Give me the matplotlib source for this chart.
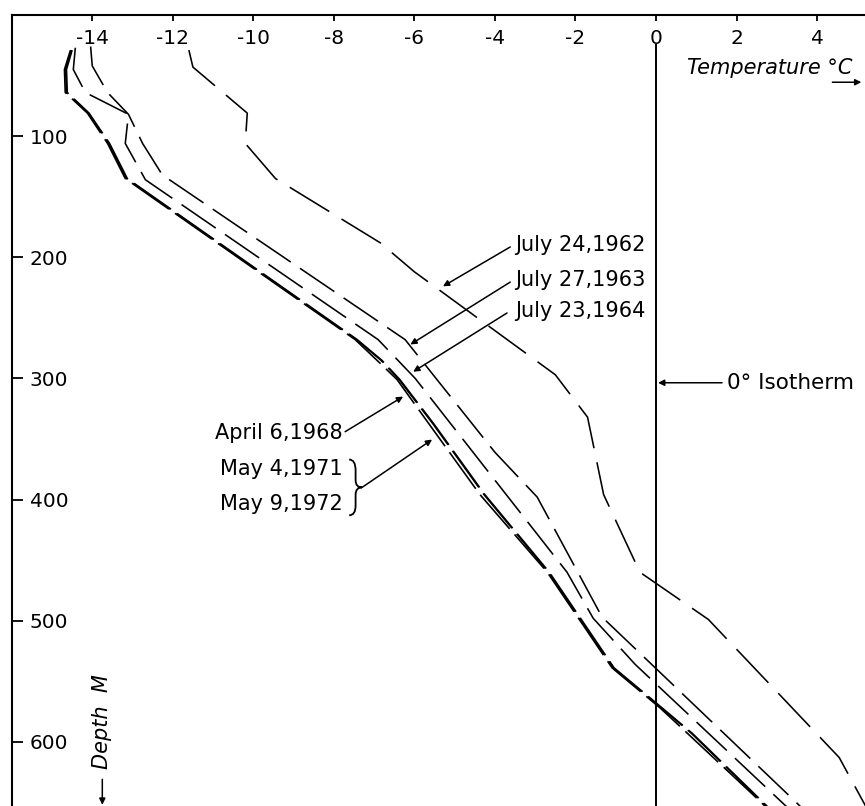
import matplotlib.pyplot as plt
from matplotlib.path import Path
from matplotlib.patches import PathPatch

plt.rcParams['font.family'] = ['DejaVu Sans']
plt.rcParams['axes.unicode_minus'] = False

# temperature profiles: depth (m) and temperature (deg C)
depth_1962 = [29, 43, 81, 106, 135, 188, 212, 297, 332, 396, 460, 499, 613, 665]
temp_1962 = [-11.6, -11.5, -10.15, -10.2, -9.45, -6.85, -6.0, -2.5, -1.7, -1.3, -0.4, 1.3, 4.55, 5.4]

depth_1963 = [26, 42, 64, 82, 106, 132, 268, 361, 398, 497, 649, 665]
temp_1963 = [-14.04, -14.0, -13.62, -13.1, -12.75, -12.26, -6.23, -4.0, -2.95, -1.34, 3.45, 3.94]

depth_1964 = [27, 45, 64, 82, 106, 136, 268, 300, 460, 498, 536, 646, 665]
temp_1964 = [-14.42, -14.47, -14.17, -13.1, -13.18, -12.68, -6.9, -5.98, -2.21, -1.56, -0.52, 3.0, 3.61]

depth_late = [29, 45, 64, 81, 106, 135, 268, 285, 301, 337, 396, 460, 539, 572, 593, 649, 665]
temp_1968 = [-14.54, -14.69, -14.67, -14.12, -13.62, -13.18, -7.47, -6.93, -6.43, -5.65, -4.37,
             -2.70, -1.09, 0.10, 0.78, 2.58, 3.07]
temp_1971 = [-14.52, -14.66, -14.64, -14.10, -13.59, -13.15, -7.44, -6.83, -6.38, -5.55, -4.27,
             -2.67, -1.06, 0.13, 0.88, 2.61, 3.10]
temp_1972 = [-14.50, -14.64, -14.62, -14.08, -13.57, -13.13, -7.42, -6.81, -6.36, -5.53, -4.25,
             -2.65, -1.04, 0.15, 0.90, 2.63, 3.12]

x_ticks = [-14, -12, -10, -8, -6, -4, -2, 0, 2, 4]
y_ticks = [100, 200, 300, 400, 500, 600]

fig = plt.figure(figsize=(8.65, 8.06), dpi=100)
ax = fig.add_axes([11.7 / 865, 0, 1 - 11.7 / 865, 1 - 15 / 806])
ax.set_xlim(-16, 5.19)
ax.set_ylim(653, 0)

ax.plot(temp_1962, depth_1962, color='black', lw=1.15, ls=(0, (29, 9)))
ax.plot(temp_1963, depth_1963, color='black', lw=1.15, ls=(0, (26, 7)))
ax.plot(temp_1964, depth_1964, color='black', lw=1.15, ls=(0, (26, 7)))
for t in (temp_1968, temp_1971, temp_1972):
    ax.plot(t, depth_late, color='black', lw=1.2, ls=(0, (27, 4.5)))

# 0 deg isotherm
ax.axvline(0, ymin=0, ymax=1 - 25 / 653, color='black', lw=1.4)

for s in ['right', 'bottom']:
    ax.spines[s].set_visible(False)
for s in ['left', 'top']:
    ax.spines[s].set_linewidth(1.5)

ax.xaxis.tick_top()
ax.set_xticks(x_ticks)
ax.set_xticklabels([str(v) for v in x_ticks])
ax.tick_params(axis='x', direction='in', length=4, width=1.3, pad=-24, labelsize=14.5)
ax.set_yticks(y_ticks)
ax.set_yticklabels([str(v) for v in y_ticks])
ax.tick_params(axis='y', direction='in', length=8, width=1.3, pad=-13, labelsize=14.5)
for lab in ax.get_yticklabels():
    lab.set_ha('left')

arr = dict(arrowstyle='-|>', color='black', lw=1.1, mutation_scale=9, shrinkA=0, shrinkB=0)
fs = 15

# date labels on the right
ax.text(-3.5, 190, 'July 24,1962', fontsize=fs, va='center', ha='left')
ax.text(-3.5, 219, 'July 27,1963', fontsize=fs, va='center', ha='left')
ax.text(-3.5, 244, 'July 23,1964', fontsize=fs, va='center', ha='left')
ax.annotate('', xy=(-5.29, 224), xytext=(-3.62, 191.5), arrowprops=arr)
ax.annotate('', xy=(-6.10, 272), xytext=(-3.62, 220.5), arrowprops=arr)
ax.annotate('', xy=(-6.03, 294.5), xytext=(-3.70, 246), arrowprops=arr)

# date labels on the left
ax.text(-7.77, 345, 'April 6,1968', fontsize=fs, va='center', ha='right')
ax.annotate('', xy=(-6.28, 315), xytext=(-7.72, 344), arrowprops=arr)
ax.text(-7.79, 375, 'May 4,1971', fontsize=fs, va='center', ha='right')
ax.text(-7.79, 404, 'May 9,1972', fontsize=fs, va='center', ha='right')

# thin brace joining the two May labels
brace = Path(
    [(-7.62, 367), (-7.46, 367), (-7.46, 376), (-7.46, 384), (-7.46, 390), (-7.30, 390),
     (-7.46, 390), (-7.46, 396), (-7.46, 405), (-7.46, 413), (-7.62, 413)],
    [Path.MOVETO, Path.CURVE3, Path.CURVE3, Path.LINETO, Path.CURVE3, Path.CURVE3,
     Path.CURVE3, Path.CURVE3, Path.LINETO, Path.CURVE3, Path.CURVE3])
ax.add_patch(PathPatch(brace, fill=False, lw=1.3, color='black'))
ax.annotate('', xy=(-5.56, 350.5), xytext=(-7.30, 390), arrowprops=arr)

# isotherm label
ax.text(1.76, 303.6, '0\u00b0 Isotherm', fontsize=15.5, va='center', ha='left')
ax.annotate('', xy=(0.05, 303.6), xytext=(1.64, 303.6), arrowprops=arr)

# axis titles
ax.text(0.77, 44, 'Temperature \u00b0C', fontsize=15, style='italic', va='center', ha='left')
ax.annotate('', xy=(5.1, 55.5), xytext=(4.38, 55.5), arrowprops=arr)
ax.text(-13.75, 583, 'Depth  M', fontsize=15, style='italic', rotation=90,
        va='center', ha='center')
ax.annotate('', xy=(-13.75, 652), xytext=(-13.75, 631), arrowprops=arr)

fig.savefig('out.png', dpi=100)
